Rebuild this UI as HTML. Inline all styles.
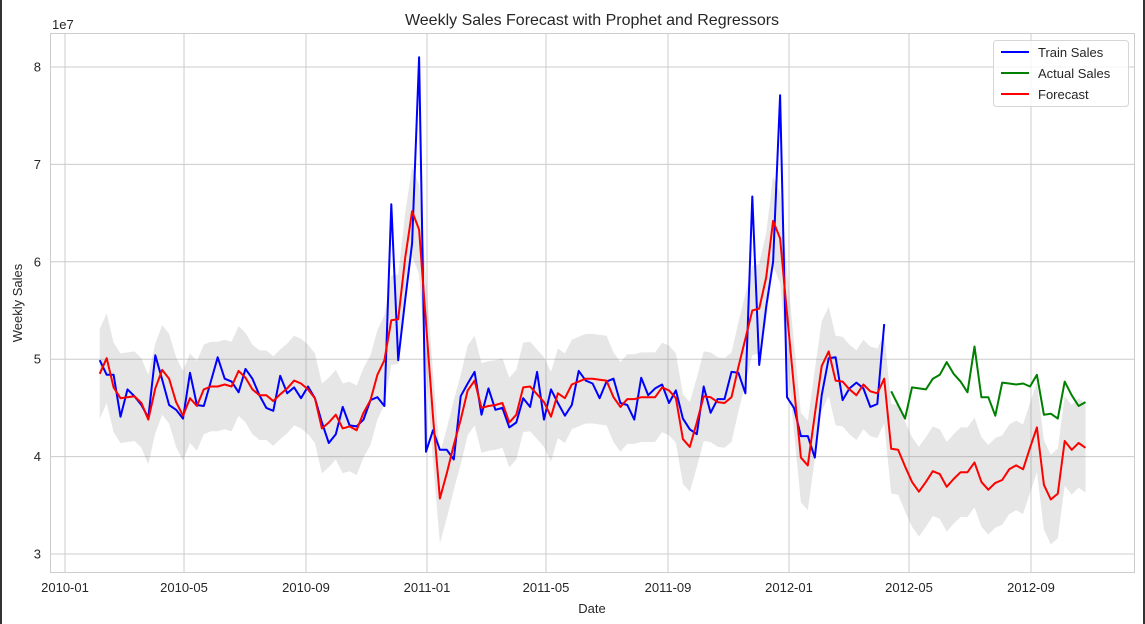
<!DOCTYPE html>
<html><head><meta charset="utf-8"><style>
html,body{margin:0;padding:0;background:#fff;}
body{width:1145px;height:624px;overflow:hidden;position:relative;font-family:"Liberation Sans",sans-serif;}
#frame{position:absolute;left:0;top:0;width:1141px;height:624px;border-left:2px solid #333;border-right:2px solid #333;}
</style></head><body>
<div id="frame"></div>
<svg id="chart" width="1145" height="624" style="position:absolute;left:0;top:0">
<text x="592" y="25" text-anchor="middle" font-size="16" fill="#262626">Weekly Sales Forecast with Prophet and Regressors</text>
<text x="52" y="29" font-size="13" fill="#262626">1e7</text>
<text x="592" y="613" text-anchor="middle" font-size="13" fill="#262626">Date</text>
<text x="0" y="0" transform="translate(22,303) rotate(-90)" text-anchor="middle" font-size="13" fill="#262626">Weekly Sales</text>
<g id="grid"></g><g id="band"></g><g id="lines"></g><g id="ticks"></g>
<rect x="50.5" y="33.5" width="1084" height="539" fill="none" stroke="#cccccc" stroke-width="1"/>
<g>
<rect x="993.5" y="40.5" width="135" height="66" rx="3" fill="#fff" fill-opacity="0.8" stroke="#d6d6d6"/>
<g><line x1="1001" y1="52" x2="1029" y2="52" stroke="#0000ff" stroke-width="2"/><text x="1038" y="57" font-size="13" fill="#262626">Train Sales</text></g>
<g><line x1="1001" y1="73" x2="1029" y2="73" stroke="#008000" stroke-width="2"/><text x="1038" y="78" font-size="13" fill="#262626">Actual Sales</text></g>
<g><line x1="1001" y1="94" x2="1029" y2="94" stroke="#ff0000" stroke-width="2"/><text x="1038" y="99" font-size="13" fill="#262626">Forecast</text></g>
</g>
</svg>
<script>
// values in millions; weekly from 2010-02-05
const trainSales=[49.9,48.4,48.4,44.1,46.9,46.2,45.3,44.0,50.4,47.9,45.3,44.8,43.9,48.6,45.3,45.2,47.7,50.2,48.0,47.7,46.6,49.0,48.0,46.3,45.0,44.7,48.3,46.5,47.1,46.0,47.2,46.0,43.5,41.4,42.3,45.1,43.2,43.1,43.8,45.8,46.1,45.2,65.9,49.9,56.1,61.9,81.0,40.5,42.7,40.7,40.7,39.7,46.2,47.5,48.7,44.3,47.0,44.8,45.0,43.0,43.5,46.0,45.1,48.7,43.8,46.9,45.5,44.2,45.3,48.8,47.8,47.5,46.0,47.7,48.0,45.5,45.3,43.8,48.1,46.3,47.0,47.4,45.5,46.8,43.9,42.8,42.3,47.2,44.5,45.9,45.9,48.7,48.6,46.5,66.7,49.4,55.4,60.0,77.1,46.1,45.0,42.1,42.1,39.9,46.3,50.1,50.2,45.8,47.0,47.6,47.0,45.1,45.4,53.6];
const actualSales=[46.7,45.3,43.9,47.1,47.0,46.9,48.0,48.4,49.7,48.5,47.7,46.6,51.3,46.1,46.1,44.2,47.6,47.5,47.4,47.5,47.2,48.4,44.3,44.4,43.9,47.7,46.3,45.2,45.6];
const forecast=[48.5,50.1,47.1,46.0,46.1,46.2,45.5,43.8,47.0,48.9,48.0,45.6,44.2,46.0,45.2,46.9,47.2,47.2,47.4,47.2,48.8,48.1,46.9,46.3,46.3,45.7,46.4,47.0,47.8,47.5,46.9,46.0,42.9,43.5,44.3,42.9,43.1,42.7,44.5,45.8,48.4,49.9,54.0,54.1,60.4,65.2,63.3,53.7,44.1,35.7,38.3,41.2,43.8,46.8,47.8,45.0,45.2,45.3,45.5,43.5,44.3,47.1,47.2,46.4,45.6,44.1,46.5,46.0,47.4,47.7,48.0,48.0,47.9,47.8,46.1,45.1,45.9,45.9,46.1,46.1,46.1,47.1,46.8,46.0,41.8,41.0,43.5,46.2,46.1,45.6,45.5,46.1,49.2,52.1,55.0,55.2,58.4,64.2,62.4,54.7,47.1,39.9,39.1,44.3,49.3,50.8,47.8,47.7,46.9,46.3,47.4,46.7,46.5,48.0,40.8,40.7,39.0,37.4,36.4,37.4,38.5,38.2,36.9,37.7,38.4,38.4,39.4,37.4,36.6,37.3,37.6,38.7,39.1,38.7,40.9,43.0,37.1,35.6,36.2,41.6,40.7,41.4,40.9];
const forecastUpper=[53.1,54.7,51.7,50.6,50.7,50.8,50.1,48.4,51.6,53.5,52.6,50.2,48.8,50.6,49.8,51.5,51.8,51.8,52.0,51.8,53.4,52.7,51.5,50.9,50.9,50.3,51.0,51.6,52.4,52.1,51.5,50.6,47.5,48.1,48.9,47.5,47.7,47.3,49.1,50.4,53.0,54.5,58.6,58.7,65.0,69.8,67.9,58.3,48.7,40.3,42.9,45.8,48.4,51.4,52.4,49.6,49.8,49.9,50.1,48.1,48.9,51.7,51.8,51.0,50.2,48.7,51.1,50.6,52.0,52.3,52.6,52.6,52.5,52.4,50.7,49.7,50.5,50.5,50.7,50.7,50.7,51.7,51.4,50.6,46.4,45.6,48.1,50.8,50.7,50.2,50.1,50.7,53.8,56.7,59.6,59.8,63.0,68.8,67.0,59.3,51.7,44.5,43.7,48.9,53.9,55.4,52.4,52.3,51.5,50.9,52.0,51.3,51.1,52.6,45.4,45.3,43.6,42.0,41.0,42.0,43.1,42.8,41.5,42.3,43.0,43.0,44.0,42.0,41.2,41.9,42.2,43.3,43.7,43.3,45.5,47.6,41.7,40.2,40.8,46.2,45.3,46.0,45.5];
const forecastLower=[43.9,45.5,42.5,41.4,41.5,41.6,40.9,39.2,42.4,44.3,43.4,41.0,39.6,41.4,40.6,42.3,42.6,42.6,42.8,42.6,44.2,43.5,42.3,41.7,41.7,41.1,41.8,42.4,43.2,42.9,42.3,41.4,38.3,38.9,39.7,38.3,38.5,38.1,39.9,41.2,43.8,45.3,49.4,49.5,55.8,60.6,58.7,49.1,39.5,31.1,33.7,36.6,39.2,42.2,43.2,40.4,40.6,40.7,40.9,38.9,39.7,42.5,42.6,41.8,41.0,39.5,41.9,41.4,42.8,43.1,43.4,43.4,43.3,43.2,41.5,40.5,41.3,41.3,41.5,41.5,41.5,42.5,42.2,41.4,37.2,36.4,38.9,41.6,41.5,41.0,40.9,41.5,44.6,47.5,50.4,50.6,53.8,59.6,57.8,50.1,42.5,35.3,34.5,39.7,44.7,46.2,43.2,43.1,42.3,41.7,42.8,42.1,41.9,43.4,36.2,36.1,34.4,32.8,31.8,32.8,33.9,33.6,32.3,33.1,33.8,33.8,34.8,32.8,32.0,32.7,33.0,34.1,34.5,34.1,36.3,38.4,32.5,31.0,31.6,37.0,36.1,36.8,36.3];
const yTicks=[30,40,50,60,70,80];
const yTickLabels=["3","4","5","6","7","8"];
const xTickDays=[0,120,243,365,485,608,730,851,974];
const xTickLabels=["2010-01","2010-05","2010-09","2011-01","2011-05","2011-09","2012-01","2012-05","2012-09"];
const firstDay=35, testStart=114;

const NS="http://www.w3.org/2000/svg";
function xDay(d){return 65+d*(362/365);}
function xIdx(i){return xDay(firstDay+7*i);}
function yVal(v){return 554-(v-30)*9.74;}
function mk(tag,attrs,parent){const e=document.createElementNS(NS,tag);for(const k in attrs)e.setAttribute(k,attrs[k]);parent.appendChild(e);return e;}
const grid=document.getElementById('grid'),ticks=document.getElementById('ticks'),band=document.getElementById('band'),lines=document.getElementById('lines');
yTicks.forEach((v,i)=>{
  const l=mk('line',{x1:51,x2:1134,y1:yVal(v),y2:yVal(v),stroke:'#cccccc','stroke-width':1},grid);
  
  
  const t=mk('text',{x:41,y:yVal(v)+4.5,'text-anchor':'end','font-size':13,fill:'#262626'},ticks);
  t.textContent=yTickLabels[i];
  
  
});
xTickDays.forEach((d,i)=>{
  const l=mk('line',{x1:xDay(d),x2:xDay(d),y1:34,y2:572,stroke:'#cccccc','stroke-width':1},grid);
  
  
  const t=mk('text',{x:xDay(d),y:592,'text-anchor':'middle','font-size':13,fill:'#262626'},ticks);
  t.textContent=xTickLabels[i];
  
  
});
// band
let pts=[];
for(let i=0;i<forecastUpper.length;i++)pts.push(xIdx(i).toFixed(1)+','+yVal(forecastUpper[i]).toFixed(1));
for(let i=forecastLower.length-1;i>=0;i--)pts.push(xIdx(i).toFixed(1)+','+yVal(forecastLower[i]).toFixed(1));
const b=mk('polygon',{points:pts.join(' '),fill:'#808080','fill-opacity':0.2,stroke:'none'},band);


function line(arr,off,color,name){
  const p=arr.map((v,i)=>xIdx(i+off).toFixed(1)+','+yVal(v).toFixed(1)).join(' ');
  const e=mk('polyline',{points:p,fill:'none',stroke:color,'stroke-width':2,'stroke-linejoin':'round'},lines);
  
  
}
line(trainSales,0,'#0000ff','train-sales-line');
line(actualSales,testStart,'#008000','actual-sales-line');
line(forecast,0,'#ff0000','forecast-line');
</script>
</body></html>
